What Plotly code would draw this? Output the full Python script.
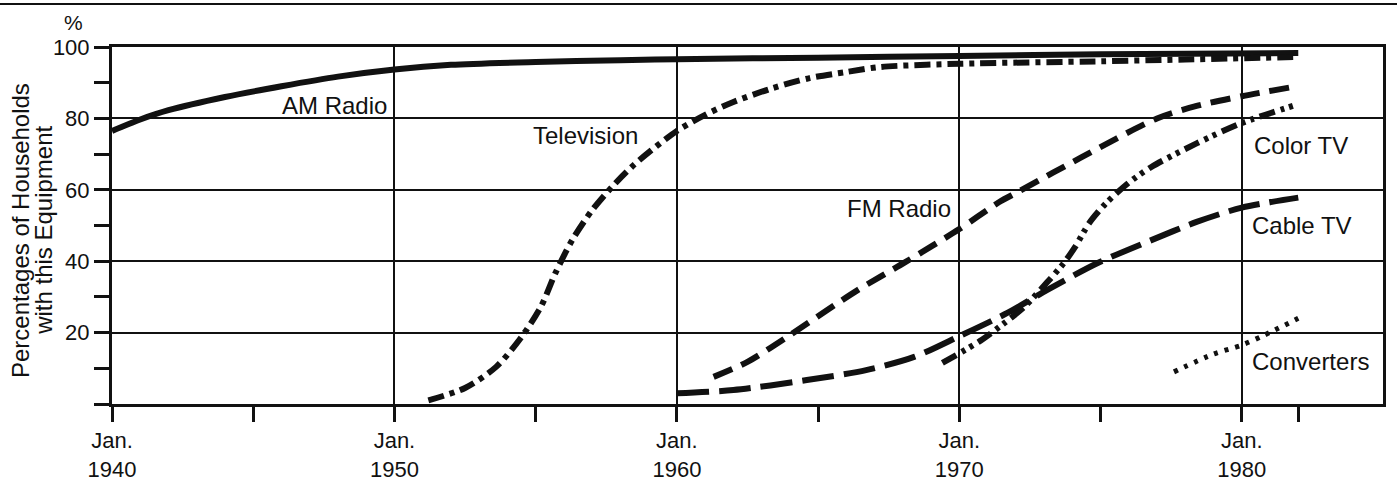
import plotly.graph_objects as go

# ---- data ----
am_years = [1940, 1941, 1942, 1944, 1946, 1948, 1950, 1952, 1955, 1958, 1960, 1965, 1970, 1975, 1982]
am_vals = [76.5, 79.7, 82.3, 86.0, 89.0, 91.7, 93.7, 95.0, 95.8, 96.3, 96.6, 97.0, 97.5, 98.0, 98.3]

tv_years = [1951.2, 1952.5, 1953.6, 1954.5, 1955.2, 1955.7, 1956.3, 1957.0, 1957.7, 1958.4, 1959.1,
            1960.0, 1961.0, 1962.0, 1963.4, 1964.7, 1966.0, 1967.2, 1970.0, 1975.0, 1978.0, 1982.0]
tv_vals = [1.0, 4.5, 10.4, 18.8, 27.5, 36.7, 46.0, 54.3, 60.8, 66.4, 71.1,
           76.5, 81.0, 84.6, 88.5, 91.3, 93.0, 94.4, 95.3, 96.0, 96.5, 97.2]

fm_years = [1961.3, 1962.5, 1964.0, 1966.4, 1968.1, 1970.0, 1971.4, 1972.1, 1974.3, 1977.0, 1978.4, 1980.0, 1981.8]
fm_vals = [7.6, 11.8, 19.3, 31.9, 39.8, 49.0, 56.5, 59.5, 69.0, 80.0, 83.5, 86.2, 88.8]

cable_years = [1960.0, 1962.0, 1964.6, 1966.7, 1968.4, 1970.0, 1971.7, 1973.1, 1974.9, 1976.8, 1978.4, 1980.0, 1982.0]
cable_vals = [3.0, 3.9, 6.7, 9.5, 13.2, 19.0, 25.5, 31.9, 39.5, 45.9, 51.0, 55.0, 57.8]

color_years = [1969.4, 1970.8, 1971.6, 1972.3, 1973.1, 1973.7, 1974.1, 1974.6, 1975.2, 1976.0, 1976.8, 1978.4, 1980.0, 1982.0]
color_vals = [11.5, 18.0, 22.7, 27.2, 34.0, 39.5, 44.0, 50.7, 56.3, 62.0, 66.4, 73.0, 78.7, 84.0]

conv_years = [1977.6, 1979.0, 1980.0, 1980.8, 1982.0]
conv_vals = [9.0, 14.0, 16.5, 19.3, 24.0]

x_major = [1940, 1950, 1960, 1970, 1980]
x_major_text = ["Jan.<br>1940", "Jan.<br>1950", "Jan.<br>1960", "Jan.<br>1970", "Jan.<br>1980"]
x_minor = [1945, 1955, 1965, 1975, 1982]
y_major = [0, 20, 40, 60, 80, 100]
y_major_text = ["", "20", "40", "60", "80", "100"]
y_minor = [10, 30, 50, 70, 90]

labels = ["AM Radio", "Television", "FM Radio", "Color TV", "Cable TV", "Converters"]
label_x = [1947.86, 1956.78, 1967.86, 1980.35, 1980.28, 1980.28]
label_y = [83.75, 75.1, 54.9, 72.55, 50.1, 12.0]
label_anchor = ["center", "center", "center", "left", "left", "left"]

INK = "#111111"
FONT = "Liberation Sans, Arial, sans-serif"

fig = go.Figure()

def add_line(xs, ys, dash, width=6):
    fig.add_trace(go.Scatter(
        x=xs, y=ys, mode="lines",
        line=dict(color=INK, width=width, dash=dash, shape="spline", smoothing=0.8),
        hoverinfo="skip", showlegend=False))

add_line(am_years, am_vals, "solid", 6)
add_line(tv_years, tv_vals, "16px,6px,5px,6px")
add_line(fm_years, fm_vals, "20px,10px")
add_line(cable_years, cable_vals, "32px,10px")
add_line(color_years, color_vals, "16px,6px,4px,5px,4px,6px")
add_line(conv_years, conv_vals, "4px,7px", 5)

for t, x, y, a in zip(labels, label_x, label_y, label_anchor):
    fig.add_annotation(x=x, y=y, xref="x", yref="y", text=t, showarrow=False,
                       xanchor=a, yanchor="middle",
                       font=dict(family=FONT, size=24, color=INK))

# y-axis title (two lines, rotated)
fig.add_annotation(x=-0.0725, y=0.487, xref="paper", yref="paper",
                   text="Percentages of Households", textangle=-90, showarrow=False,
                   xanchor="center", yanchor="middle",
                   font=dict(family=FONT, size=24, color=INK))
fig.add_annotation(x=-0.0545, y=0.487, xref="paper", yref="paper",
                   text="with this Equipment", textangle=-90, showarrow=False,
                   xanchor="center", yanchor="middle",
                   font=dict(family=FONT, size=24, color=INK))
# percent sign
fig.add_annotation(x=-0.0299, y=1.07, xref="paper", yref="paper",
                   text="%", showarrow=False, xanchor="center", yanchor="middle",
                   font=dict(family=FONT, size=21, color=INK))

# top separator rule
fig.add_shape(type="line", xref="paper", yref="paper",
              x0=-0.09, x1=1.02, y0=1.1204, y1=1.1204,
              line=dict(color=INK, width=2))

fig.update_xaxes(
    range=[1940, 1985], showline=True, linecolor=INK, linewidth=3, mirror=True,
    tickmode="array", tickvals=x_major, ticktext=x_major_text,
    ticks="outside", ticklen=15, tickwidth=3, tickcolor=INK,
    showgrid=True, gridcolor=INK, gridwidth=2, zeroline=False, automargin=False,
    tickfont=dict(family=FONT, size=22, color=INK),
    minor=dict(tickmode="array", tickvals=x_minor, ticks="outside", ticklen=15,
               tickwidth=3, tickcolor=INK, showgrid=False),
)
fig.update_yaxes(
    range=[0, 100], showline=True, linecolor=INK, linewidth=3, mirror=True,
    tickmode="array", tickvals=y_major, ticktext=y_major_text,
    ticks="outside", ticklen=15, tickwidth=3, tickcolor=INK,
    showgrid=True, gridcolor=INK, gridwidth=2, zeroline=False, automargin=False,
    tickfont=dict(family=FONT, size=22, color=INK),
    minor=dict(tickmode="array", tickvals=y_minor, ticks="outside", ticklen=15,
               tickwidth=3, tickcolor=INK, showgrid=False),
)

fig.update_layout(
    width=1397, height=482,
    margin=dict(l=112, r=14, t=47, b=78),
    paper_bgcolor="white", plot_bgcolor="white",
    showlegend=False,
)

fig.write_html("out.html", config={"displayModeBar": False},
               post_script="document.body.style.margin='0';")
